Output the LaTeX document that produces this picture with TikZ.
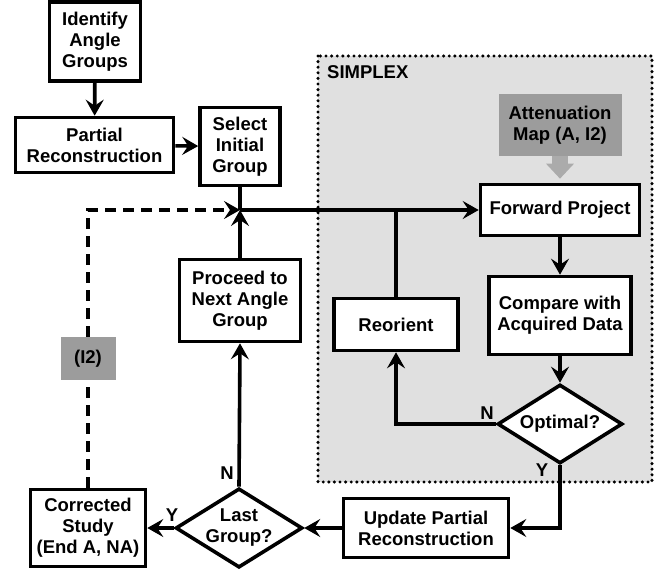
\documentclass[tikz,border=0pt]{standalone}
\usepackage{fontspec}
\setmainfont{Liberation Sans}
\usetikzlibrary{arrows.meta,shapes.geometric}
\definecolor{SimplexBg}{HTML}{E0E0E0}
\definecolor{InputGray}{HTML}{9C9C9C}
\definecolor{FeedGray}{HTML}{ABABAB}

\tikzset{
  flowbox/.style={draw, line width=3.6pt, fill=white, align=center, inner sep=0pt},
  decision/.style={diamond, aspect=1.6, draw, line width=3.6pt, fill=white, align=center,
    inner sep=0pt, minimum width=125pt, minimum height=79pt},
  inputbox/.style={fill=InputGray, align=center, inner sep=0pt},
  tip/.style={-{Stealth[length=16pt,width=18pt,inset=6pt]}},
  flow/.style={line width=3.6pt, tip},
  link/.style={line width=3.6pt},
  feedback/.style={line width=3.6pt, dash pattern=on 11pt off 7pt},
  tag/.style={inner sep=1pt}
}

\begin{document}
\begin{tikzpicture}[x=1pt,y=-1pt,font=\fontsize{18.5}{21}\selectfont\bfseries]
        \useasboundingbox (0,0) rectangle (663,572);

        % Simplex region
        \fill[SimplexBg] (318,56) rectangle (652,482);
        \draw[line width=3.4pt, dash pattern=on 0pt off 5.6pt, line cap=round] (318,56) rectangle (652,482);
        \node[tag, anchor=base west] (simplex) at (326,79) {SIMPLEX};

        % Boxes
        \node[flowbox, minimum width=91pt, minimum height=79pt] (ident) at (95,41.5) {Identify\\Angle\\Groups};
        \node[flowbox, minimum width=158pt, minimum height=55pt] (partial) at (94.5,145) {Partial\\Reconstruction};
        \node[flowbox, minimum width=80pt, minimum height=78pt] (select) at (240,146.5) {Select\\Initial\\Group};
        \node[flowbox, minimum width=121pt, minimum height=82pt] (proceed) at (240,300.5) {Proceed to\\Next Angle\\Group};
        \node[flowbox, minimum width=159pt, minimum height=51pt] (fwd) at (560,210) {Forward Project};
        \node[flowbox, minimum width=142pt, minimum height=78pt] (compare) at (560,315.5) {Compare with\\Acquired Data};
        \node[flowbox, minimum width=124pt, minimum height=52pt] (reorient) at (396,324.5) {Reorient};
        \node[inputbox, minimum width=123pt, minimum height=62pt] (atten) at (560,125) {Attenuation\\Map (A, I2)};
        \node[flowbox, minimum width=165pt, minimum height=59pt] (update) at (426,528) {Update Partial\\Reconstruction};
        \node[flowbox, minimum width=115pt, minimum height=77pt] (corrected) at (88,528) {Corrected\\Study\\(End A, NA)};
        \node[inputbox, minimum width=55pt, minimum height=43pt] (i2) at (88,358.5) {(I2)};

        % Decisions
        \node[decision] (lastg) at (239,528) {Last\\Group?};
        \node[decision] (optimal) at (560,424) {Optimal?};

        % Junction
        \coordinate (jn) at (240,210);

        % Connectors
        \draw[flow] (ident) -- (partial);
        \draw[flow] (partial) -- (select);
        \draw[link] (select.south) -- (jn);
        \draw[flow] (jn) -- (fwd.west);
        \draw[flow] (proceed.north) -- (jn);
        \draw[link] (reorient.north) -- (reorient.north |- jn);
        \draw[flow] (fwd) -- (compare);
        \draw[flow] (compare.south) -- (optimal.north);
        \draw[flow] (optimal.west) -- (reorient.south |- optimal.west) -- (reorient.south);
        \draw[flow] (optimal.south) -- (optimal.south |- update.east) -- (update.east);
        \draw[flow] (update.west) -- (lastg.east);
        \draw[flow] (lastg.west) -- (corrected.east);
        \draw[flow] (lastg.north) -- (proceed.south);
        \draw[FeedGray, line width=16pt, -{Triangle[length=15pt,width=27pt]}, shorten >=4pt] (atten.south) -- (fwd.north);

        % Dashed feedback
        \draw[feedback] (corrected.north) -- (i2.south);
        \draw[feedback, tip] (i2.north) -- (i2.north |- jn) -- (jn);

        % Labels
        \node[tag] (nopt) at (487,413) {N};
        \node[tag] (yopt) at (542,470) {Y};
        \node[tag] (nlast) at (227,473) {N};
        \node[tag] (ylast) at (172,515) {Y};
      \end{tikzpicture}
\end{document}
